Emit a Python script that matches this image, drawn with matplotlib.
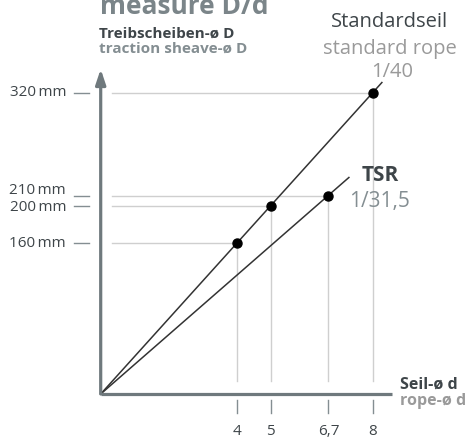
import matplotlib.pyplot as plt

plt.rcParams['font.family'] = ['Open Sans', 'DejaVu Sans']

# rope diameter d and sheave diameter D
d_std = [4, 5, 8]
D_std = [160, 200, 320]
d_tsr = [6.7]
D_tsr = [210]
ratio_std = 40
ratio_tsr = 31.5
y_ticks = [160, 200, 210, 320]
y_labels = ['160\u2009mm', '200\u2009mm', '210\u2009mm', '320\u2009mm']
x_ticks = [4, 5, 6.7, 8]
x_labels = ['4', '5', '6,7', '8']

W, H = 466, 438
X0, Y0 = 100.7, 394.0      # pixel position of origin
SX, SY = 34.0, 0.9416      # pixels per unit

def px(x, y):
    return (x - X0) / SX, (Y0 - y) / SY

dark = '#3e4549'
grey = '#848e92'
light = '#9a9a9a'
axis_c = '#6f797d'
grid_c = '#cfcfcf'

fig = plt.figure(figsize=(W / 100, H / 100), dpi=100)
ax = fig.add_axes([0, 0, 1, 1])
ax.set_xlim(px(0, 0)[0], px(W, 0)[0])
ax.set_ylim(px(0, H)[1], px(0, 0)[1])
ax.axis('off')

gx = px(112, 0)[0]
gy = px(0, 381)[1]

# helper lines
for x, y in zip(d_std + d_tsr, D_std + D_tsr):
    ax.plot([gx, x], [y, y], color=grid_c, lw=1)
    ax.plot([x, x], [gy, y], color=grid_c, lw=1)

# ratio lines
xe_std = 8.27
xe_tsr = 7.3
ax.plot([0, xe_std], [0, xe_std * ratio_std], color='#333333', lw=1.1)
ax.plot([0, xe_tsr], [0, xe_tsr * ratio_tsr], color='#333333', lw=1.1)
ax.plot(d_std + d_tsr, D_std + D_tsr, 'o', color='black', ms=6.5, zorder=5)

# axes
ax.plot([0, px(392, 0)[0]], [0, 0], color=axis_c, lw=2.3, solid_capstyle='butt')
ax.annotate('', xy=(0, px(0, 69)[1]), xytext=(0, 0),
            arrowprops=dict(arrowstyle='-|>,head_length=0.9,head_width=0.3',
                            color=axis_c, lw=2.3, shrinkA=0, shrinkB=0))

# y ticks (labels of 200/210 pushed apart a little, as in the original)
label_pos = [160, 198, 216, 320]
tx0, tx1 = px(74, 0)[0], px(89, 0)[0]
for v, lab, lp in zip(y_ticks, y_labels, label_pos):
    ax.plot([tx0, tx1], [v, v], color=grey, lw=1)
    ax.text(px(66, 0)[0], lp, lab, ha='right', va='center', fontsize=11, color=dark)

# x ticks
ty0, ty1 = px(0, 400)[1], px(0, 413)[1]
for v, lab in zip(x_ticks, x_labels):
    ax.plot([v, v], [ty0, ty1], color=grey, lw=1)
    ax.text(v, px(0, 435)[1], lab, ha='center', va='baseline', fontsize=11, color=dark)

# labels
def t(x, y, s, **kw):
    xx, yy = px(x, y)
    ax.text(xx, yy, s, va='baseline', **kw)

t(100, 14, 'measure D/d', fontsize=19, fontweight='bold', color='#7b8589')
t(99, 38, 'Treibscheiben-ø D', fontsize=11, fontweight='bold', color=dark)
t(99, 53, 'traction sheave-ø D', fontsize=11, fontweight='bold', color=grey)
t(390, 27, 'Standardseil', fontsize=14.5, color=dark, ha='center')
t(390, 54, 'standard rope', fontsize=14.5, color=light, ha='center')
t(392, 77, '1/40', fontsize=14.5, color=light, ha='center')
t(380, 181, 'TSR', fontsize=15, fontweight='bold', color=dark, ha='center')
t(380, 207, '1/31,5', fontsize=15, color=grey, ha='center')
t(400, 389, 'Seil-ø d', fontsize=11.5, fontweight='bold', color=dark)
t(400, 405, 'rope-ø d', fontsize=11.5, fontweight='bold', color=light)

fig.savefig('out.png', dpi=100)
